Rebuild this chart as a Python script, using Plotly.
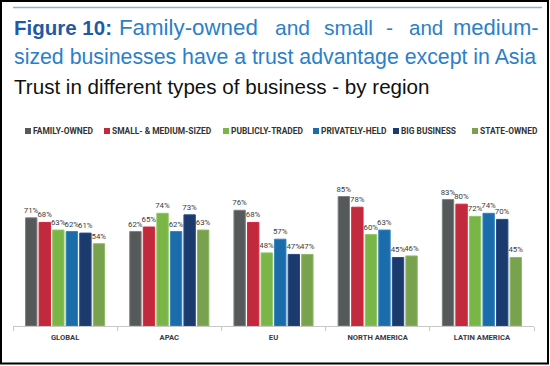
import plotly.graph_objects as go

regions = ["GLOBAL", "APAC", "EU", "NORTH AMERICA", "LATIN AMERICA"]
series_names = ["FAMILY-OWNED", "SMALL- & MEDIUM-SIZED", "PUBLICLY-TRADED",
                "PRIVATELY-HELD", "BIG BUSINESS", "STATE-OWNED"]
family_owned = [71, 62, 76, 85, 83]
small_medium = [68, 65, 68, 78, 80]
publicly_traded = [63, 74, 48, 60, 72]
privately_held = [62, 62, 57, 63, 74]
big_business = [61, 73, 47, 45, 70]
state_owned = [54, 63, 47, 46, 45]
series_values = [family_owned, small_medium, publicly_traded,
                 privately_held, big_business, state_owned]

colors = ["#56595a", "#c12a3d", "#7ab547", "#1b6caa", "#1b3a6d", "#78a24d"]
edges = ["#7d8080", "#d8263d", "#93c765", "#3583c0", "#2a4c86", "#8db866"]

W, H = 550, 366
L, R, T, B = 13, 16, 160, 40
PW, PH = W - L - R, H - T - B


def px(x):
    return (x - L) / PW


def py(y):
    return (H - B - y) / PH


COND = "Roboto, Liberation Sans, sans-serif"
SANS = "Liberation Sans, Arial, Helvetica, sans-serif"

fig = go.Figure()
for name, vals, col, edge in zip(series_names, series_values, colors, edges):
    fig.add_trace(go.Bar(
        x=regions, y=vals, name=name,
        marker=dict(color=col, line=dict(color=edge, width=1)),
        text=[f"{v}%" for v in vals], textposition="outside",
        textfont=dict(family=COND, size=7.8, color="#3a3a3a"),
        constraintext="none", cliponaxis=False, showlegend=False,
        hoverinfo="skip",
    ))

annotations = []
shapes = []

# Frame and rule
shapes.append(dict(type="rect", xref="paper", yref="paper",
                   x0=px(1), x1=px(548), y0=py(363.5), y1=py(1),
                   line=dict(color="black", width=2), layer="above"))
shapes.append(dict(type="line", xref="paper", yref="paper",
                   x0=px(13), x1=px(542), y0=py(7.5), y1=py(7.5),
                   line=dict(color="#8db0d6", width=1.5)))

# Title line 1 (justified words)
line1 = [("<b>Figure 10:</b>", 13, "#1f5aa6", 20.5), ("Family-owned", 118, "#2b7fc9", 22.3),
         ("and", 274, "#2b7fc9", 21), ("small", 323, "#2b7fc9", 21),
         ("-", 385, "#2b7fc9", 21), ("and", 408, "#2b7fc9", 20.5),
         ("medium-", 452, "#2b7fc9", 22)]
for txt, x, c, s in line1:
    annotations.append(dict(text=txt, x=px(x), y=py(27.3), xref="paper", yref="paper",
                            xanchor="left", yanchor="middle", showarrow=False,
                            borderpad=0, font=dict(family=SANS, size=s, color=c)))
annotations.append(dict(text="sized businesses have a trust advantage except in Asia",
                        x=px(13), y=py(57.3), xref="paper", yref="paper",
                        xanchor="left", yanchor="middle", showarrow=False, borderpad=0,
                        font=dict(family=SANS, size=21.3, color="#2b7fc9")))
annotations.append(dict(text="Trust in different types of business - by region",
                        x=px(13), y=py(86), xref="paper", yref="paper",
                        xanchor="left", yanchor="middle", showarrow=False, borderpad=0,
                        font=dict(family=SANS, size=20.6, color="#111111")))

# Manual legend
legend_x = [25, 104, 223, 313, 393, 472]
for name, col, x in zip(series_names, colors, legend_x):
    shapes.append(dict(type="rect", xref="paper", yref="paper",
                       x0=px(x), x1=px(x + 6), y0=py(134), y1=py(128),
                       fillcolor=col, line=dict(width=0)))
    annotations.append(dict(text=f"<b>{name}</b>", x=px(x + 7), y=py(131),
                            xref="paper", yref="paper", xanchor="left", yanchor="middle",
                            showarrow=False, borderpad=0,
                            font=dict(family=COND, size=8.4, color="#333333")))

fig.update_layout(
    width=W, height=H,
    margin=dict(l=L, r=R, t=T, b=B, pad=0),
    paper_bgcolor="white", plot_bgcolor="white",
    barmode="group", bargap=0.22, bargroupgap=0.16,
    showlegend=False,
    xaxis=dict(showline=True, linecolor="#c8c8c8", linewidth=1,
               ticks="outside", ticklen=4, tickcolor="#c8c8c8", tickson="boundaries",
               ticklabelstandoff=4,
               tickfont=dict(family=COND, size=7.6, color="#353a48"),
               tickprefix="<b>", ticksuffix="</b>", fixedrange=True),
    yaxis=dict(range=[0, 109], visible=False, showgrid=False, zeroline=False,
               fixedrange=True),
    annotations=annotations, shapes=shapes,
)

fig.write_html("out.html", config={"displayModeBar": False},
               post_script="document.body.style.margin='0';document.body.style.overflow='hidden';")
